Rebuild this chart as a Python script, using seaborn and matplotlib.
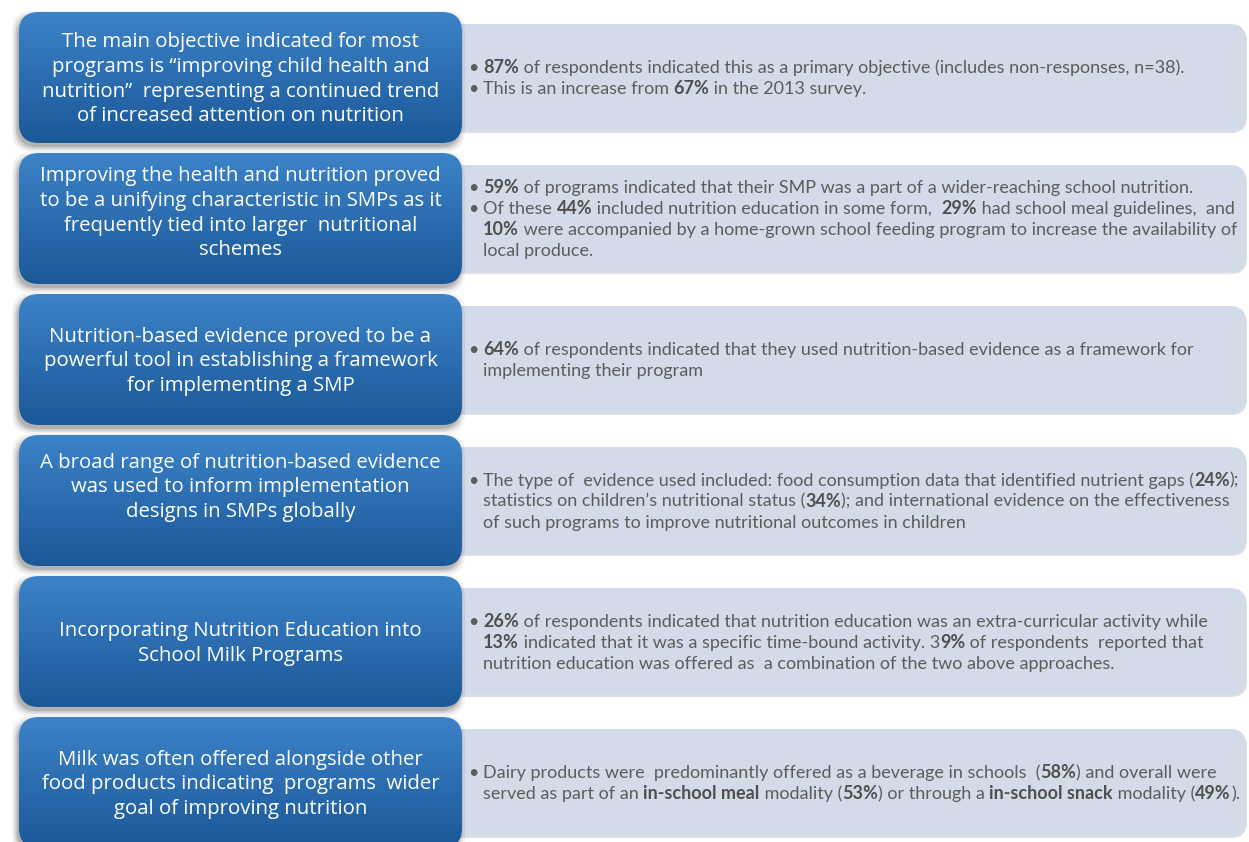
import matplotlib
matplotlib.use("Agg")
import numpy as np
import matplotlib.pyplot as plt
import seaborn as sns
from matplotlib.patches import FancyBboxPatch
from matplotlib.font_manager import FontProperties, fontManager

sns.set_theme(style="white")

# ---- content: left headline boxes ----
headlines = [
    "The main objective indicated for most\nprograms is \u201cimproving child health and\nnutrition\u201d  representing a continued trend\nof increased attention on nutrition",
    "Improving the health and nutrition proved\nto be a unifying characteristic in SMPs as it\nfrequently tied into larger  nutritional\nschemes",
    "Nutrition-based evidence proved to be a\npowerful tool in establishing a framework\nfor implementing a SMP",
    "A broad range of nutrition-based evidence\nwas used to inform implementation\ndesigns in SMPs globally",
    "Incorporating Nutrition Education into\nSchool Milk Programs",
    "Milk was often offered alongside other\nfood products indicating  programs  wider\ngoal of improving nutrition",
]

# ---- content: right detail boxes (bullets -> wrapped lines, **bold**) ----
details_1 = [
    ["**87%** of respondents indicated this as a primary objective (includes non-responses, n=38)."],
    ["This is an increase from **67%** in the 2013 survey."],
]
details_2 = [
    ["**59%** of programs indicated that their SMP was a part of a wider-reaching school nutrition."],
    ["Of these **44%** included nutrition education in some form,  **29%** had school meal guidelines,  and",
     "**10%** were accompanied by a home-grown school feeding program to increase the availability of",
     "local produce."],
]
details_3 = [
    ["**64%** of respondents indicated that they used nutrition-based evidence as a framework for",
     "implementing their program"],
]
details_4 = [
    ["The type of  evidence used included: food consumption data that identified nutrient gaps (**24%**);",
     "statistics on children\u2019s nutritional status (**34%**); and international evidence on the effectiveness",
     "of such programs to improve nutritional outcomes in children"],
]
details_5 = [
    ["**26%** of respondents indicated that nutrition education was an extra-curricular activity while",
     "**13%** indicated that it was a specific time-bound activity. 3**9%** of respondents  reported that",
     "nutrition education was offered as  a combination of the two above approaches."],
]
details_6 = [
    ["Dairy products were  predominantly offered as a beverage in schools  (**58%**) and overall were",
     "served as part of an **in-school meal** modality (**53%**) or through a **in-school snack** modality (**49%**)."],
]
details = [details_1, details_2, details_3, details_4, details_5, details_6]

# ---- layout / style ----
W, H = 1249, 842
ROW_TOP, ROW_PITCH = 12, 141
BLUE_X0, BLUE_X1, BLUE_H = 19, 462, 131
GREY_X0, GREY_X1, GREY_H, GREY_DY = 440, 1246, 107, 12
BODY_X = 468
head_shift = [0, -7, 0, -15, 0, 0]
HEAD_LINE, BODY_LINE = 24.7, 21.0
BLUE_TOP, BLUE_BOTTOM = "#3c83c8", "#1b5898"
GREY = "#d3dbe8"
BODY_COLOR, BOLD_COLOR = "#5c5c5c", "#4f4f4f"
# (row, bullet, line, right edge px), used to size the body font
body_fit = [(0, 0, 0, 1197), (1, 1, 0, 1236), (3, 0, 0, 1236), (3, 0, 1, 1226), (5, 0, 1, 1237)]

installed = {f.name for f in fontManager.ttflist}
head_font = next(f for f in ["Open Sans", "Lato", "DejaVu Sans"] if f in installed)
body_font = next(f for f in ["Liberation Sans Narrow", "Lato", "DejaVu Sans"] if f in installed)

fig = plt.figure(figsize=(W / 100, H / 100), dpi=100)
ax = fig.add_axes([0, 0, 1, 1])
renderer = fig.canvas.get_renderer()


def advance(s, family, size, bold=False):
    prop = FontProperties(family=family, size=size, weight="bold" if bold else "normal")
    w1 = renderer.get_text_width_height_descent("|" + s + "|", prop, ismath=False)[0]
    w0 = renderer.get_text_width_height_descent("||", prop, ismath=False)[0]
    return w1 - w0


def line_width(line, family, size):
    return sum(advance(p, family, size, k % 2 == 1)
               for k, p in enumerate(line.split("**")) if p)


def draw_runs(x, y, line, family, size):
    for k, part in enumerate(line.split("**")):
        if not part:
            continue
        bold = k % 2 == 1
        ax.text(x, y, part, fontfamily=family, fontsize=size,
                fontweight="bold" if bold else "normal",
                color=BOLD_COLOR if bold else BODY_COLOR,
                ha="left", va="baseline", zorder=5)
        x += advance(part, family, size, bold)


# fit font sizes to the reference line widths (px)
head_size = 14 * 360 / advance(headlines[0].split("\n")[0], head_font, 14)
ind12 = advance("\u2022 ", body_font, 12)
body_size = min(12 * (right - BODY_X) / (ind12 + line_width(details[r][b][l], body_font, 12))
                for r, b, l, right in body_fit)
head_px = head_size * 100 / 72
body_px = body_size * 100 / 72

blue_cmap = sns.blend_palette([BLUE_TOP, BLUE_BOTTOM], as_cmap=True)
grad = np.linspace(0, 1, 256).reshape(-1, 1)

for i, (head, bullets) in enumerate(zip(headlines, details)):
    y0 = ROW_TOP + i * ROW_PITCH

    # grey detail box
    gy = y0 + GREY_DY
    ax.add_patch(FancyBboxPatch((GREY_X0 + 1, gy + 2), GREY_X1 - GREY_X0, GREY_H,
                                boxstyle="round,pad=0,rounding_size=16",
                                fc="#c3cad6", ec="none", alpha=0.6, zorder=1))
    ax.add_patch(FancyBboxPatch((GREY_X0, gy), GREY_X1 - GREY_X0, GREY_H,
                                boxstyle="round,pad=0,rounding_size=16",
                                fc=GREY, ec="none", zorder=1))

    # soft shadow under blue box
    for pad, a in [(5, 0.05), (3, 0.07), (1.5, 0.09), (0, 0.12)]:
        ax.add_patch(FancyBboxPatch((BLUE_X0 - 2, y0 + 4), BLUE_X1 - BLUE_X0, BLUE_H,
                                    boxstyle=f"round,pad={pad},rounding_size=20",
                                    fc="black", ec="none", alpha=a, zorder=2))

    # blue gradient box
    box = FancyBboxPatch((BLUE_X0, y0), BLUE_X1 - BLUE_X0, BLUE_H,
                         boxstyle="round,pad=0,rounding_size=20",
                         fc="none", ec="none", zorder=3)
    ax.add_patch(box)
    im = ax.imshow(grad, cmap=blue_cmap, extent=(BLUE_X0, BLUE_X1, y0 + BLUE_H, y0),
                   aspect="auto", interpolation="bilinear", zorder=3)
    im.set_clip_path(box)

    # headline text
    lines = head.split("\n")
    cy = y0 + BLUE_H / 2 + head_shift[i]
    cx = (BLUE_X0 + BLUE_X1) / 2
    for k, ln in enumerate(lines):
        ly = cy + (k - (len(lines) - 1) / 2) * HEAD_LINE + 0.34 * head_px
        ax.text(cx, ly, ln, fontfamily=head_font, fontsize=head_size,
                color="white", ha="center", va="baseline", zorder=5)

    # detail text
    flat = []
    for b in bullets:
        for k, ln in enumerate(b):
            flat.append((k == 0, ln))
    gcy = gy + GREY_H / 2
    indent = advance("\u2022 ", body_font, body_size)
    for k, (first, ln) in enumerate(flat):
        ly = gcy + (k - (len(flat) - 1) / 2) * BODY_LINE + 0.34 * body_px
        if first:
            ax.text(BODY_X, ly, "\u2022", fontfamily=body_font, fontsize=body_size,
                    color=BODY_COLOR, ha="left", va="baseline", zorder=5)
        draw_runs(BODY_X + indent, ly, ln, body_font, body_size)

ax.set_xlim(0, W)
ax.set_ylim(H, 0)
ax.axis("off")
fig.savefig("out.png", dpi=100, facecolor="white")
